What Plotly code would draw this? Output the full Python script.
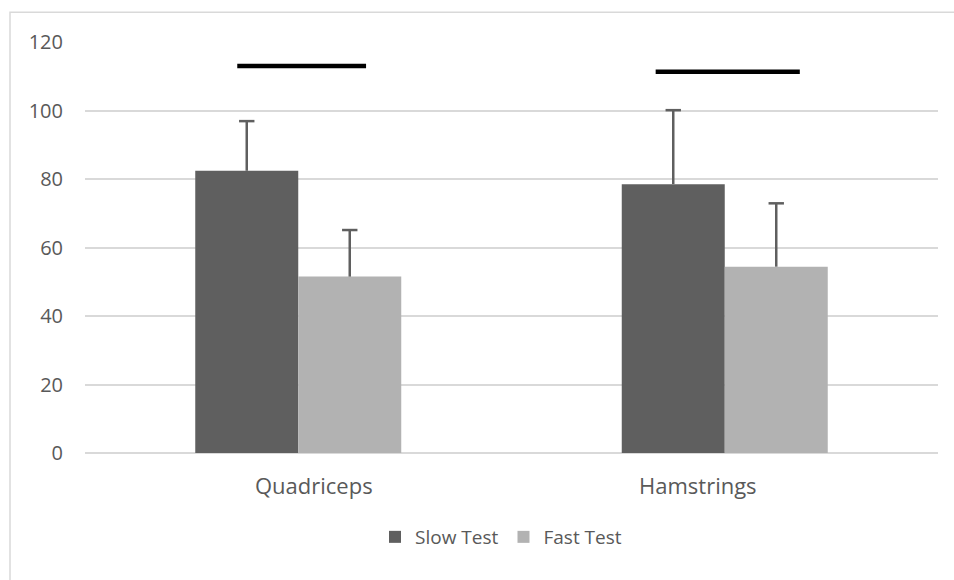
import plotly.graph_objects as go

categories = ["Quadriceps", "Hamstrings"]
slow_values = [82.4, 78.5]
slow_errors = [14.5, 21.6]
fast_values = [51.5, 54.4]
fast_errors = [13.6, 18.5]
series_names = ["Slow Test", "Fast Test"]
y_ticks = [0, 20, 40, 60, 80, 100, 120]
# significance bars: level and horizontal extent relative to category centre
sig_level = [113.0, 111.3]
sig_left = [-0.143, -0.162]
sig_right = [0.159, 0.176]

SLOW_COLOR = "#5f5f5f"
FAST_COLOR = "#b2b2b2"
ERR_COLOR = "#5f5f5f"
GRID = "#d9d9d9"
TEXT = "#595959"
FONT = "Open Sans"
BARGAP = 0.517
LABEL_XSHIFTS = (16, -27)  # label placement in the source image (pixels)

W, H = 954, 580
ML, MR, MT, MB = 85, 16, 42, 127
pw = W - ML - MR
ph = H - MT - MB

xs = list(range(len(categories)))
off = (1 - BARGAP) / 4

fig = go.Figure()
for name, vals, errs, col, sgn in [
    (series_names[0], slow_values, slow_errors, SLOW_COLOR, -1),
    (series_names[1], fast_values, fast_errors, FAST_COLOR, 1),
]:
    fig.add_trace(go.Bar(
        x=xs, y=vals, name=name, marker=dict(color=col, line=dict(width=0)),
        error_y=dict(type="data", symmetric=False, array=errs, arrayminus=[0] * len(errs),
                     color=ERR_COLOR, thickness=2.5, width=0),
    ))
    fig.add_trace(go.Scatter(
        x=[x + sgn * off for x in xs], y=[v + e for v, e in zip(vals, errs)],
        mode="markers", showlegend=False, hoverinfo="skip",
        marker=dict(symbol="line-ew", size=11, line=dict(color=ERR_COLOR, width=2.5)),
    ))

for i, (lvl, l, r) in enumerate(zip(sig_level, sig_left, sig_right)):
    fig.add_trace(go.Scatter(
        x=[xs[i] + l, xs[i] + r], y=[lvl, lvl], mode="lines", showlegend=False,
        hoverinfo="skip", line=dict(color="black", width=4.5),
    ))

# category labels
for i, cat in enumerate(categories):
    fig.add_annotation(x=xs[i], y=0, xref="x", yref="y", text=cat, showarrow=False,
                       xanchor="center", yanchor="top", yshift=-15,
                       xshift=LABEL_XSHIFTS[i],
                       font=dict(size=22, color=TEXT, family=FONT))

# outer chart border (top and left only visible)
bx = (10 - ML) / pw
by = (H - MB - 12.3) / ph
fig.add_shape(type="path", xref="paper", yref="paper",
              path=f"M {bx},-1 L {bx},{by} L 1.2,{by}",
              line=dict(color=GRID, width=1.5))

fig.update_layout(
    width=W, height=H,
    margin=dict(l=ML, r=MR, t=MT, b=MB),
    paper_bgcolor="white", plot_bgcolor="white",
    barmode="group", bargap=BARGAP, bargroupgap=0,
    font=dict(family=FONT, color=TEXT, size=20),
    showlegend=True,
    legend=dict(orientation="h", x=(501 - ML) / pw, xanchor="center",
                y=(H - MB - 537) / ph, yanchor="middle",
                font=dict(size=19, color=TEXT), traceorder="normal"),
    xaxis=dict(range=[-0.5, len(categories) - 0.5], tickvals=xs, ticktext=["", ""],
               showgrid=False, zeroline=False, showline=False, ticks=""),
    yaxis=dict(range=[0, 120], tickvals=y_ticks, showgrid=True, gridcolor=GRID,
               gridwidth=1.5, zeroline=True, zerolinecolor=GRID, zerolinewidth=1.5,
               showline=False, ticks="", tickfont=dict(size=20, color=TEXT),
               ticklabelstandoff=21),
)

fig.write_html("out.html")
